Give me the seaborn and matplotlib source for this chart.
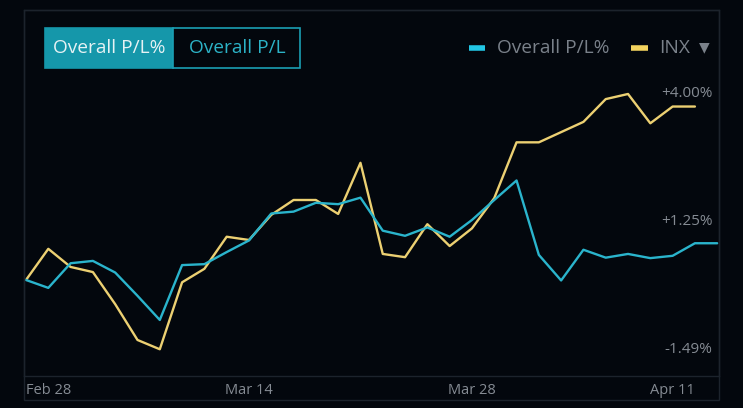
import numpy as np
import pandas as pd
import matplotlib
matplotlib.use("Agg")
import matplotlib.pyplot as plt
import matplotlib.transforms as mtransforms
from matplotlib.patches import Rectangle
from matplotlib.lines import Line2D
import seaborn as sns

# ------------------------------------------------------------
# Data (% change since Feb 28)
# ------------------------------------------------------------
pl_pct = [0.00, -0.17, 0.36, 0.41, 0.16, -0.34, -0.86, 0.32, 0.34, 0.60,
          0.85, 1.43, 1.47, 1.66, 1.63, 1.77, 1.06, 0.95, 1.13, 0.93,
          1.29, 1.72, 2.14, 0.54, -0.01, 0.65, 0.48, 0.56, 0.47, 0.52,
          0.79, 0.79]
inx_pct = [0.00, 0.67, 0.28, 0.17, -0.52, -1.29, -1.49, -0.05, 0.24, 0.93,
           0.86, 1.40, 1.72, 1.72, 1.42, 2.52, 0.56, 0.49, 1.20, 0.73,
           1.11, 1.76, 2.96, 2.96, 3.18, 3.40, 3.89, 4.00, 3.37, 3.73,
           3.73]
date_ticks = [0, 10, 20, 30]
date_labels = ["Feb 28", "Mar 14", "Mar 28", "Apr 11"]
level_values = [4.00, 1.25, -1.49]
level_labels = ["+4.00%", "+1.25%", "-1.49%"]

df = pd.concat([
    pd.DataFrame({"day": np.arange(len(pl_pct)), "pct": pl_pct, "series": "Overall P/L%"}),
    pd.DataFrame({"day": np.arange(len(inx_pct)), "pct": inx_pct, "series": "INX"}),
])

# colours
bg = "#03070d"
frame = "#1c232c"
cyan = "#2ab4cc"
yellow = "#ecd072"
grey = "#858b93"

sns.set_theme(style="dark", rc={"axes.facecolor": bg, "figure.facecolor": bg})
plt.rcParams["font.family"] = ["Open Sans", "DejaVu Sans"]

W, H = 743, 408
fig = plt.figure(figsize=(W / 100, H / 100), dpi=100)

def fx(px):
    return px / W

def fy(py):
    return (H - py) / H

# axes spans the framed box, from the top frame line to the x axis line
ax = fig.add_axes([fx(24), fy(376), fx(719) - fx(24), fy(10) - fy(376)])

sns.lineplot(data=df, x="day", y="pct", hue="series",
             palette={"Overall P/L%": cyan, "INX": yellow},
             hue_order=["INX", "Overall P/L%"],
             linewidth=1.7, legend=False, ax=ax)

ax.set_xlim(-0.09, 31.08)
ax.set_ylim(-2.065, 5.806)
ax.set_xlabel("")
ax.set_ylabel("")
ax.grid(False)
ax.set_yticks([])
for s in ax.spines.values():
    s.set_color(frame)
    s.set_linewidth(1.0)

ax.set_xticks(date_ticks)
ax.set_xticklabels(date_labels, color=grey, fontsize=10.5)
ax.tick_params(axis="x", length=0, pad=5)
tl = ax.get_xticklabels()
tl[0].set_ha("left")
tl[-1].set_ha("right")

# min / mid / max level labels on the right
trans = mtransforms.blended_transform_factory(ax.transAxes, ax.transData)
for v, lab in zip(level_values, level_labels):
    ax.text(0.991, v, lab, transform=trans, ha="right", va="center",
            color=grey, fontsize=11)

# outer frame down below the date labels
fig.patches.append(Rectangle((fx(24), fy(400)), fx(719) - fx(24), fy(10) - fy(400),
                             transform=fig.transFigure, fill=False,
                             edgecolor=frame, linewidth=1.0))

# toggle buttons
fig.patches.append(Rectangle((fx(45), fy(68)), fx(173) - fx(45), fy(28) - fy(68),
                             transform=fig.transFigure, facecolor="#1597aa",
                             edgecolor="#1597aa", linewidth=1.2))
fig.patches.append(Rectangle((fx(173), fy(68)), fx(300) - fx(173), fy(28) - fy(68),
                             transform=fig.transFigure, facecolor=bg,
                             edgecolor="#1a9fb3", linewidth=1.2))
fig.text(fx(109), fy(48), "Overall P/L%", color="#e6f2f4", fontsize=13.8,
         ha="center", va="center")
fig.text(fx(237), fy(48), "Overall P/L", color="#2cb3c7", fontsize=13.8,
         ha="center", va="center")

# legend
fig.lines.append(Line2D([fx(469), fx(485)], [fy(48), fy(48)], transform=fig.transFigure,
                        color="#22c6e4", linewidth=4, solid_capstyle="butt"))
fig.text(fx(497), fy(48), "Overall P/L%", color="#7a818a", fontsize=13.8,
         ha="left", va="center")
fig.lines.append(Line2D([fx(631), fx(648)], [fy(48), fy(48)], transform=fig.transFigure,
                        color="#f3d35e", linewidth=4, solid_capstyle="butt"))
fig.text(fx(659), fy(48), "INX", color="#7a818a", fontsize=13.8,
         ha="left", va="center")
fig.text(fx(704), fy(47), "\u25bc", color="#7a818a", fontsize=10,
         ha="center", va="center", family=["DejaVu Sans"])

fig.savefig("out.png", dpi=100, facecolor=bg)
